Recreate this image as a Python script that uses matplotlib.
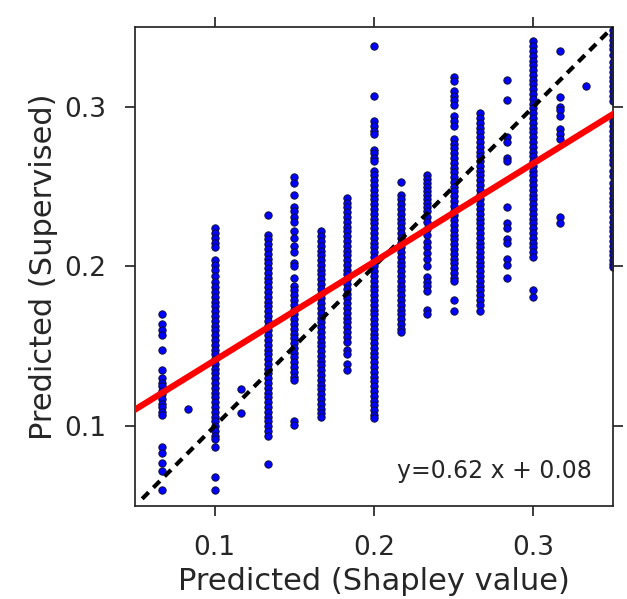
import matplotlib
matplotlib.use("Agg")
import matplotlib.pyplot as plt
import numpy as np


# one entry per column of predictions (Shapley value), with the supervised predictions
shapley_values = [1 / 15, 1 / 12, 0.1, 7 / 60, 2 / 15, 0.15, 1 / 6, 11 / 60, 0.2,
                  13 / 60, 7 / 30, 0.25, 4 / 15, 17 / 60, 0.3, 19 / 60, 1 / 3, 0.35]

col_067 = [0.170, 0.164, 0.160, 0.157, 0.148, 0.135, 0.130, 0.127, 0.125, 0.122, 0.120,
           0.117, 0.114, 0.112, 0.109, 0.107, 0.087, 0.083, 0.077, 0.072, 0.060]
col_083 = [0.111]
col_100 = [0.224, 0.221, 0.218, 0.215, 0.212, 0.204, 0.201, 0.198, 0.194, 0.190, 0.187,
           0.184, 0.181, 0.178, 0.175, 0.172, 0.169, 0.166, 0.163, 0.160, 0.157, 0.154,
           0.151, 0.148, 0.145, 0.142, 0.139, 0.136, 0.133, 0.130, 0.127, 0.124, 0.121,
           0.118, 0.115, 0.112, 0.109, 0.106, 0.103, 0.100, 0.097, 0.094, 0.092, 0.087,
           0.068, 0.060]
col_117 = [0.123, 0.108]
col_133 = [0.232, 0.220, 0.217, 0.214, 0.211, 0.208, 0.205, 0.202, 0.199, 0.196, 0.193,
           0.190, 0.187, 0.184, 0.181, 0.178, 0.175, 0.172, 0.169, 0.166, 0.163, 0.160,
           0.157, 0.154, 0.151, 0.148, 0.145, 0.142, 0.139, 0.136, 0.133, 0.130, 0.127,
           0.124, 0.121, 0.118, 0.115, 0.112, 0.109, 0.106, 0.103, 0.100, 0.097, 0.094,
           0.076]
col_150 = [0.256, 0.252, 0.245, 0.237, 0.235, 0.231, 0.228, 0.222, 0.218, 0.213, 0.209,
           0.202, 0.200, 0.193, 0.188, 0.185, 0.182, 0.179, 0.176, 0.173, 0.170, 0.167,
           0.164, 0.161, 0.158, 0.155, 0.152, 0.149, 0.146, 0.143, 0.140, 0.137, 0.134,
           0.131, 0.129, 0.103, 0.101]
col_167 = [0.222, 0.219, 0.216, 0.213, 0.210, 0.207, 0.204, 0.201, 0.198, 0.195, 0.192,
           0.189, 0.186, 0.183, 0.180, 0.177, 0.174, 0.171, 0.168, 0.165, 0.162, 0.159,
           0.156, 0.153, 0.150, 0.147, 0.144, 0.141, 0.138, 0.135, 0.132, 0.129, 0.126,
           0.123, 0.120, 0.117, 0.114, 0.111, 0.108, 0.106]
col_183 = [0.243, 0.240, 0.237, 0.234, 0.231, 0.228, 0.225, 0.222, 0.219, 0.216, 0.213,
           0.210, 0.207, 0.204, 0.201, 0.198, 0.195, 0.192, 0.189, 0.186, 0.183, 0.180,
           0.177, 0.174, 0.171, 0.168, 0.165, 0.162, 0.159, 0.156, 0.153, 0.148, 0.145,
           0.139, 0.135]
col_200 = [0.338, 0.307, 0.291, 0.288, 0.285, 0.283, 0.273, 0.271, 0.268, 0.266, 0.260,
           0.257, 0.254, 0.251, 0.248, 0.245, 0.242, 0.239, 0.236, 0.233, 0.230, 0.227,
           0.224, 0.221, 0.218, 0.215, 0.212, 0.209, 0.206, 0.203, 0.200, 0.197, 0.194,
           0.191, 0.188, 0.185, 0.182, 0.179, 0.176, 0.173, 0.170, 0.167, 0.164, 0.161,
           0.158, 0.155, 0.152, 0.149, 0.146, 0.143, 0.140, 0.137, 0.134, 0.131, 0.128,
           0.125, 0.122, 0.119, 0.116, 0.113, 0.110, 0.107, 0.105]
col_217 = [0.253, 0.245, 0.242, 0.239, 0.236, 0.233, 0.230, 0.227, 0.224, 0.221, 0.218,
           0.215, 0.212, 0.209, 0.206, 0.203, 0.200, 0.197, 0.194, 0.191, 0.188, 0.185,
           0.182, 0.179, 0.176, 0.173, 0.170, 0.167, 0.164, 0.161, 0.159]
col_233 = [0.2575, 0.255, 0.2525, 0.250, 0.2475, 0.245, 0.2425, 0.240, 0.2375, 0.235,
           0.231, 0.228, 0.2235, 0.2195, 0.2155, 0.212, 0.2085, 0.2044, 0.2005, 0.1935,
           0.1905, 0.1875, 0.1846, 0.173, 0.170]
col_250 = [0.319, 0.316, 0.310, 0.307, 0.304, 0.301, 0.294, 0.291, 0.288, 0.280, 0.277,
           0.274, 0.271, 0.268, 0.265, 0.262, 0.259, 0.256, 0.253, 0.250, 0.247, 0.244,
           0.241, 0.238, 0.235, 0.232, 0.229, 0.226, 0.223, 0.220, 0.217, 0.214, 0.211,
           0.208, 0.205, 0.202, 0.199, 0.196, 0.193, 0.191, 0.179, 0.172]
col_267 = [0.296, 0.293, 0.290, 0.287, 0.284, 0.281, 0.278, 0.275, 0.272, 0.269, 0.266,
           0.263, 0.260, 0.257, 0.254, 0.251, 0.248, 0.245, 0.242, 0.239, 0.236, 0.233,
           0.230, 0.227, 0.224, 0.221, 0.218, 0.215, 0.212, 0.209, 0.206, 0.203, 0.200,
           0.197, 0.194, 0.191, 0.188, 0.185, 0.182, 0.179, 0.176, 0.172]
col_283 = [0.317, 0.304, 0.281, 0.278, 0.268, 0.266, 0.237, 0.227, 0.224, 0.217, 0.215,
           0.205, 0.201, 0.193]
col_300 = [0.341, 0.338, 0.335, 0.332, 0.329, 0.326, 0.323, 0.320, 0.317, 0.314, 0.311,
           0.308, 0.305, 0.302, 0.299, 0.296, 0.293, 0.290, 0.287, 0.284, 0.281, 0.278,
           0.275, 0.272, 0.269, 0.266, 0.263, 0.260, 0.257, 0.254, 0.251, 0.248, 0.245,
           0.242, 0.239, 0.236, 0.233, 0.230, 0.227, 0.224, 0.221, 0.218, 0.215, 0.212,
           0.209, 0.206, 0.185, 0.181]
col_317 = [0.335, 0.306, 0.300, 0.298, 0.294, 0.286, 0.283, 0.280, 0.231, 0.227]
col_333 = [0.313]
col_350 = [0.348, 0.345, 0.342, 0.339, 0.336, 0.3325, 0.328, 0.325, 0.322, 0.319, 0.316,
           0.313, 0.310, 0.307, 0.3035, 0.294, 0.291, 0.288, 0.285, 0.282, 0.279, 0.276,
           0.273, 0.270, 0.267, 0.264, 0.260, 0.2564, 0.2525, 0.249, 0.246, 0.243, 0.2405,
           0.2377, 0.2346, 0.231, 0.228, 0.225, 0.222, 0.219, 0.216, 0.213, 0.210, 0.207,
           0.204, 0.2015, 0.1994]

supervised_columns = [col_067, col_083, col_100, col_117, col_133, col_150, col_167, col_183,
                      col_200, col_217, col_233, col_250, col_267, col_283, col_300, col_317,
                      col_333, col_350]

fit_slope = 0.617
fit_intercept = 0.0795
identity_range = [0.0545, 0.35]
axis_ticks = [0.1, 0.2, 0.3]
axis_limits = (0.05, 0.35)


def setup_style() -> None:
    plt.rcParams.update(
        {
            "font.family": "DejaVu Sans",
            "text.color": "0.15",
            "axes.labelcolor": "0.15",
            "axes.edgecolor": "0.15",
            "axes.linewidth": 1.25,
            "xtick.color": "0.15",
            "ytick.color": "0.15",
            "xtick.direction": "out",
            "ytick.direction": "out",
            "xtick.major.size": 7,
            "ytick.major.size": 7,
            "xtick.major.width": 1.25,
            "ytick.major.width": 1.25,
            "xtick.major.pad": 14,
            "ytick.major.pad": 14,
            "xtick.labelsize": 19,
            "ytick.labelsize": 19,
            "axes.labelsize": 22,
        }
    )


def main() -> None:
    setup_style()
    fig = plt.figure(figsize=(6.27, 5.99), dpi=100)
    ax = fig.add_axes([0.2153, 0.1553, 0.7624, 0.7996])

    xs = np.concatenate([[x] * len(col) for x, col in zip(shapley_values, supervised_columns)])
    ys = np.concatenate([np.asarray(col, dtype=float) for col in supervised_columns])
    ax.scatter(xs, ys, s=28, color="#0000ff", edgecolors="#111133", linewidths=0.7, zorder=2)

    line_x = np.array(identity_range)
    ax.plot(line_x, line_x, color="black", linestyle=(0, (2.2, 1.6)), linewidth=3, zorder=3)
    fit_x = np.array(axis_limits)
    ax.plot(fit_x, fit_slope * fit_x + fit_intercept, color="red", linewidth=4.5, zorder=4)

    ax.text(0.955, 0.058, "y=0.62 x + 0.08", transform=ax.transAxes,
            ha="right", va="baseline", fontsize=17)

    ax.set_xlim(*axis_limits)
    ax.set_ylim(*axis_limits)
    ax.set_xticks(axis_ticks)
    ax.set_yticks(axis_ticks)
    ax.tick_params(top=True, right=True)
    ax.set_xlabel("Predicted (Shapley value)", labelpad=4)
    ax.set_ylabel("Predicted (Supervised)", labelpad=4)

    fig.savefig("out.png", dpi=100)
    plt.close(fig)


if __name__ == "__main__":
    main()
